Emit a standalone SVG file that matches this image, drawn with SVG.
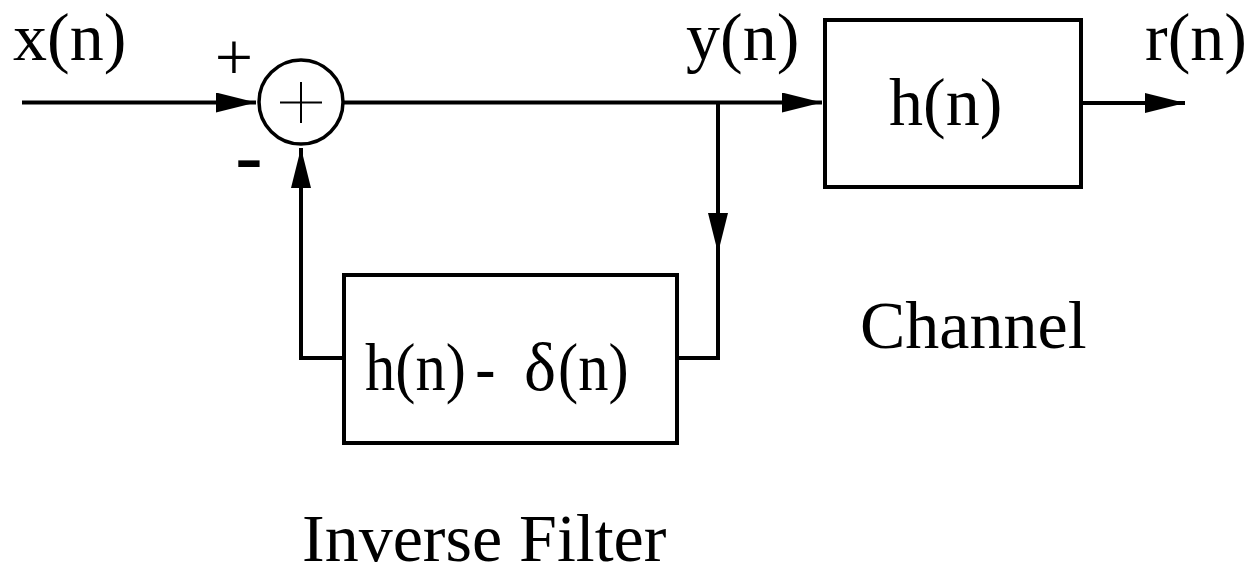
<svg xmlns="http://www.w3.org/2000/svg" width="1249" height="565" viewBox="0 0 1249 565">
<style>
.ln{fill:none;stroke:#000;stroke-width:4}
.box{fill:#fff;stroke:#000;stroke-width:4}
.t{font-family:"Liberation Serif","Times New Roman",serif;font-size:68px;fill:#000}
</style>
<defs>
<marker id="ah" markerUnits="userSpaceOnUse" markerWidth="42" markerHeight="22" refX="40" refY="10" orient="auto">
<path d="M0,0 L40,10 L0,20 z" fill="#000"/>
</marker>
</defs>
<rect width="1249" height="565" fill="#fff"/>
<g id="connectors">
<path class="ln" d="M22,102.5 H256" marker-end="url(#ah)"/>
<path class="ln" d="M344,102.5 H822" marker-end="url(#ah)"/>
<path class="ln" d="M718,102.5 V253" marker-end="url(#ah)"/>
<path class="ln" d="M718,250 V358 H677"/>
<path class="ln" d="M344,358 H301 V148" marker-end="url(#ah)"/>
<path class="ln" d="M1081,103 H1185" marker-end="url(#ah)"/>
</g>
<g id="sum">
<circle cx="301" cy="102" r="42" fill="#fff" stroke="#000" stroke-width="3.5"/>
<line x1="280" y1="102.5" x2="322" y2="102.5" stroke="#000" stroke-width="2"/>
<line x1="301" y1="82" x2="301" y2="123" stroke="#000" stroke-width="2"/>
<text class="t" x="234" y="80" text-anchor="middle" font-size="66">+</text>
<text x="0" y="0" transform="translate(235 178) scale(1.5 1)" font-family="Liberation Sans, Arial, sans-serif" font-weight="bold" font-size="56">-</text>
</g>
<g id="channel">
<rect class="box" x="825" y="20" width="256" height="167"/>
<text class="t" x="889" y="125">h(n)</text>
<text class="t" x="860" y="348">Channel</text>
</g>
<g id="inverse-filter">
<rect class="box" x="344" y="275" width="333" height="168"/>
<text class="t" transform="translate(365 390) scale(0.89 1)"><tspan x="0" y="0">h(n)</tspan><tspan x="124" y="0">-</tspan></text>
<text class="t" x="524" y="390" font-size="74">δ</text>
<text class="t" transform="translate(558 390) scale(0.89 1)">(n)</text>
<text class="t" x="302" y="561">Inverse Filter</text>
</g>
<g id="labels">
<text class="t" x="13" y="60">x(n)</text>
<text class="t" x="686" y="60">y(n)</text>
<text class="t" x="1145" y="60">r(n)</text>
</g>
</svg>
